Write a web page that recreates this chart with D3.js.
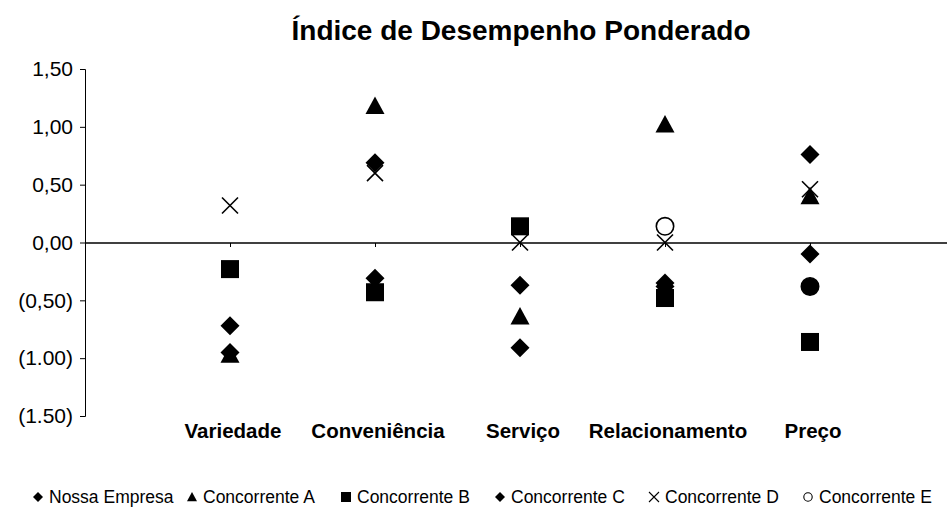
<!DOCTYPE html>
<html>
<head>
<meta charset="utf-8">
<script src="https://cdn.jsdelivr.net/npm/d3@7"></script>
<style>
  body { margin: 0; background: #fff; }
  text { font-family: "Liberation Sans", Arial, Helvetica, sans-serif; fill: #000; }
</style>
</head>
<body>
<script>
var categories = ["Variedade", "Conveniência", "Serviço", "Relacionamento", "Preço"];
var yTicks = [1.5, 1.0, 0.5, 0, -0.5, -1.0, -1.5];
var yTickLabels = ["1,50", "1,00", "0,50", "0,00", "(0,50)", "(1.00)", "(1.50)"];

var seriesNames = ["Nossa Empresa", "Concorrente A", "Concorrente B", "Concorrente C", "Concorrente D", "Concorrente E"];
var seriesShapes = ["diamond", "triangle", "square", "diamond", "cross", "circle"];

var nossaEmpresa  = [-0.72, 0.69, -0.37, -0.35, 0.76];
var concorrenteA  = [-0.97, 1.18, -0.64, 1.02, 0.40];
var concorrenteB  = [-0.23, -0.43, 0.14, -0.48, -0.86];
var concorrenteC  = [-0.95, -0.31, -0.91, -0.38, -0.10];
var concorrenteD  = [0.32, 0.60, 0.00, 0.00, 0.46];
var concorrenteE  = [null, null, null, 0.14, -0.38];
var concorrenteEFilled = [false, false, false, false, true];

var seriesValues = [nossaEmpresa, concorrenteA, concorrenteB, concorrenteC, concorrenteD, concorrenteE];

var screen = {width: 947, height: 509};

var svg = d3.select("body")
            .append("svg")
            .attr("width", screen.width)
            .attr("height", screen.height);

var x = d3.scalePoint()
          .domain(categories)
          .range([85, 955])
          .padding(1);

var y = d3.scaleLinear()
          .domain([-1.5, 1.5])
          .range([416, 69]);

// title
svg.append("text")
   .attr("x", 521)
   .attr("y", 40)
   .attr("text-anchor", "middle")
   .attr("font-size", 28)
   .attr("font-weight", "bold")
   .text("Índice de Desempenho Ponderado");

// y axis
var yAxis = d3.axisLeft(y)
              .tickValues(yTicks)
              .tickSize(5)
              .tickPadding(7)
              .tickFormat(function(d, i) { return yTickLabels[i]; });

var yg = svg.append("g")
   .attr("transform", "translate(85,0)")
   .call(yAxis);
yg.select(".domain").attr("stroke", "#000").attr("d", "M-5,69.5H0.5V416.5H-5");
yg.selectAll("line").attr("stroke", "#000");
yg.selectAll("text")
  .attr("font-size", 21)
  .attr("font-family", "'Liberation Sans', Arial, sans-serif")
  .attr("fill", "#000");

// zero line with category ticks
var xAxis = d3.axisBottom(x)
              .tickSize(4)
              .tickFormat("");
var xg = svg.append("g")
   .attr("transform", "translate(0," + Math.round(y(0)) + ")")
   .call(xAxis);
xg.select(".domain").attr("stroke", "#000").attr("stroke-width", 1.5).attr("d", "M85,0H947");
xg.selectAll("line").attr("stroke", "#000");

// category labels
svg.append("g")
   .selectAll("text")
   .data(categories)
   .enter()
   .append("text")
   .attr("x", function(d) { return x(d) + 3; })
   .attr("y", 438)
   .attr("text-anchor", "middle")
   .attr("font-size", 20.5)
   .attr("font-weight", "bold")
   .text(function(d) { return d; });

var drawMarker = function(g, shape, s, filled) {
  var h = s / 2;
  if (shape == "diamond") {
    g.append("path").attr("d", "M0," + (-h) + "L" + h + ",0L0," + h + "L" + (-h) + ",0Z").attr("fill", "#000");
  } else if (shape == "triangle") {
    g.append("path").attr("d", "M0," + (-h) + "L" + h + "," + (h * 0.85) + "L" + (-h) + "," + (h * 0.85) + "Z").attr("fill", "#000");
  } else if (shape == "square") {
    g.append("rect").attr("x", -h).attr("y", -h).attr("width", s).attr("height", s).attr("fill", "#000");
  } else if (shape == "cross") {
    g.append("path").attr("d", "M" + (-h) + "," + (-h) + "L" + h + "," + h + "M" + h + "," + (-h) + "L" + (-h) + "," + h)
     .attr("stroke", "#000").attr("stroke-width", s > 12 ? 1.6 : 1.1).attr("fill", "none");
  } else if (shape == "circle") {
    g.append("circle").attr("r", h - 0.8)
     .attr("fill", filled ? "#000" : "#fff")
     .attr("stroke", "#000").attr("stroke-width", s > 12 ? 1.6 : 1.1);
  }
};

var markerSize = {diamond: 19, triangle: 19, square: 18, cross: 16, circle: 19};

// points
seriesValues.forEach(function(values, si) {
  var g = svg.append("g").attr("class", "series");
  values.forEach(function(v, ci) {
    if (v == null) return;
    var m = g.append("g")
             .attr("transform", "translate(" + x(categories[ci]) + "," + y(v) + ")");
    var filled = si == 5 ? concorrenteEFilled[ci] : true;
    drawMarker(m, seriesShapes[si], markerSize[seriesShapes[si]], filled);
  });
});

// legend
var legend = svg.append("g");
seriesNames.forEach(function(name, i) {
  var lx = 38 + i * 154;
  var item = legend.append("g").attr("transform", "translate(" + lx + ",497)");
  drawMarker(item.append("g"), seriesShapes[i], 10, false);
  item.append("text")
      .attr("x", 11)
      .attr("y", 6)
      .attr("font-size", 17.5)
      .text(name);
});
</script>
</body>
</html>
